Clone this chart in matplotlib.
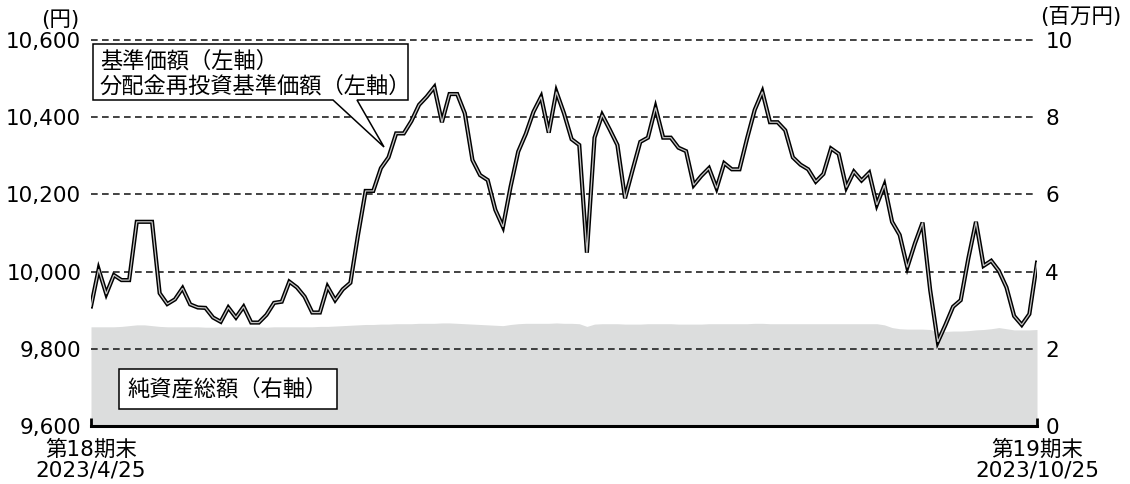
import numpy as np
import matplotlib
matplotlib.use('Agg')
import matplotlib.pyplot as plt
from matplotlib.patches import Polygon

plt.rcParams['font.family'] = ['DejaVu Sans', 'Noto Sans CJK JP']
plt.rcParams['font.size'] = 15.5

# 基準価額 (円), daily, 第18期末 -> 第19期末
nav = [9910, 10006, 9942, 9991, 9978, 9978, 10129, 10129, 10129, 9944,
       9916, 9928, 9957, 9915, 9907, 9906, 9881, 9870, 9907, 9881,
       9909, 9868, 9868, 9888, 9919, 9922, 9974, 9959, 9935, 9894,
       9894, 9961, 9926, 9954, 9971, 10095, 10209, 10209, 10268, 10296,
       10358, 10358, 10390, 10432, 10453, 10478, 10387, 10460, 10460, 10410,
       10289, 10250, 10237, 10160, 10116, 10220, 10311, 10357, 10414, 10453,
       10360, 10466, 10410, 10343, 10328, 10049, 10347, 10406, 10368, 10328,
       10190, 10264, 10336, 10347, 10425, 10347, 10347, 10321, 10312, 10224,
       10248, 10268, 10216, 10281, 10265, 10265, 10345, 10419, 10466, 10387,
       10387, 10366, 10296, 10277, 10265, 10233, 10253, 10319, 10305, 10218,
       10259, 10236, 10256, 10173, 10224, 10129, 10095, 10011, 10073, 10127,
       9952, 9818, 9862, 9909, 9926, 10034, 10129, 10015, 10028, 10002,
       9959, 9885, 9862, 9890, 10023]

# 純資産総額 (百万円)
assets = [2.57, 2.57, 2.57, 2.57, 2.58, 2.60, 2.62, 2.62, 2.60, 2.58,
          2.57, 2.57, 2.57, 2.57, 2.57, 2.56, 2.56, 2.57, 2.57, 2.57,
          2.57, 2.57, 2.57, 2.56, 2.57, 2.57, 2.57, 2.57, 2.57, 2.57,
          2.58, 2.58, 2.59, 2.60, 2.61, 2.62, 2.63, 2.63, 2.64, 2.64,
          2.65, 2.65, 2.65, 2.66, 2.66, 2.66, 2.67, 2.67, 2.66, 2.65,
          2.64, 2.63, 2.62, 2.61, 2.60, 2.63, 2.65, 2.66, 2.66, 2.66,
          2.66, 2.67, 2.66, 2.66, 2.65, 2.58, 2.64, 2.65, 2.65, 2.65,
          2.64, 2.64, 2.64, 2.65, 2.65, 2.65, 2.65, 2.64, 2.64, 2.64,
          2.64, 2.65, 2.65, 2.65, 2.65, 2.65, 2.65, 2.66, 2.66, 2.65,
          2.65, 2.65, 2.65, 2.65, 2.65, 2.65, 2.65, 2.65, 2.65, 2.65,
          2.65, 2.65, 2.65, 2.65, 2.62, 2.55, 2.52, 2.51, 2.51, 2.51,
          2.50, 2.44, 2.45, 2.46, 2.46, 2.47, 2.49, 2.50, 2.52, 2.55,
          2.52, 2.49, 2.49, 2.49, 2.50]

x_labels = ['第18期末\n2023/4/25', '第19期末\n2023/10/25']
left_ticks = [9600, 9800, 10000, 10200, 10400, 10600]
right_ticks = [0, 2, 4, 6, 8, 10]

W, H = 1130, 484
fig = plt.figure(figsize=(W / 100, H / 100), dpi=100)
ax = fig.add_axes([91 / W, 1 - 426 / H, 946 / W, 386 / H])
ax2 = ax.twinx()
ax.set_zorder(ax2.get_zorder() + 1)
ax.patch.set_visible(False)

x = np.arange(len(nav))

# net assets area (right axis)
ax2.fill_between(x, 0, assets, color='#dcdddd', lw=0)
ax2.set_ylim(0, 10)
ax2.set_yticks(right_ticks)
ax2.set_yticklabels([str(t) for t in right_ticks])
ax2.tick_params(axis='y', length=0, pad=6)

# NAV lines (left axis)
ax.plot(x, nav, color='black', lw=3.0, solid_joinstyle='miter', zorder=3)
ax.plot(x, nav, color='#c4c4c4', lw=0.9, solid_joinstyle='miter', zorder=4)
ax.set_xlim(0, len(nav) - 1)
ax.set_ylim(9600, 10600)
ax.set_yticks(left_ticks)
ax.set_yticklabels([f'{t:,}' for t in left_ticks])
ax.tick_params(axis='y', length=0, pad=7)
for t in left_ticks[1:]:
    ax.axhline(t, color='#222222', lw=1.2, ls=(0, (4, 2.6)), zorder=2, clip_on=False)

ax.set_xticks([0, len(nav) - 1])
ax.set_xticklabels(x_labels, linespacing=1.0)
ax.tick_params(axis='x', direction='in', length=6, width=2, pad=10)

for a in (ax, ax2):
    for s in ('top', 'left', 'right'):
        a.spines[s].set_visible(False)
ax2.spines['bottom'].set_visible(False)
ax.spines['bottom'].set_linewidth(2.2)
ax.spines['bottom'].set_color('black')


def fp(px, py):
    return (px / W, 1 - py / H)


fig.text(*fp(60, 20), '(円)', ha='center', va='center')
fig.text(*fp(1081, 17), '(百万円)', ha='center', va='center')

# callout box for NAV
pts = [fp(93, 44), fp(408, 44), fp(408, 100), fp(357, 100), fp(384, 147),
       fp(333, 100), fp(93, 100)]
fig.patches.append(Polygon(pts, closed=True, transform=fig.transFigure,
                           facecolor='white', edgecolor='black', lw=1.1, zorder=5))
fig.text(*fp(100, 61), '基準価額（左軸）', ha='left', va='center', zorder=6, fontsize=16)
fig.text(*fp(100, 86), '分配金再投資基準価額（左軸）', ha='left', va='center', zorder=6,
         fontsize=16)

ax.text((228 - 91) / 946, (426 - 389) / 386, '純資産総額（右軸）',
        transform=ax.transAxes, ha='center', va='center', zorder=6, fontsize=16,
        bbox=dict(boxstyle='square,pad=0.4', fc='white', ec='black', lw=1.1))

fig.savefig('out.png', dpi=100)
